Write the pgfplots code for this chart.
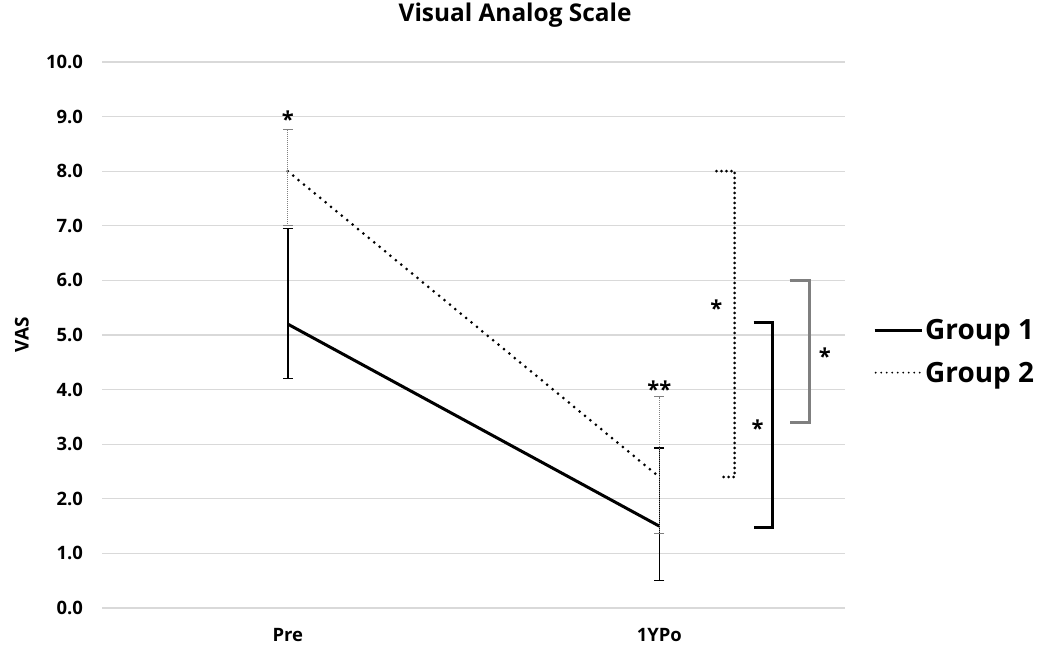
\documentclass[border=0pt]{standalone}
\usepackage{pgfplots}
\pgfplotsset{compat=1.18}
\usepackage{fontspec}
\setmainfont{Open Sans}[BoldFont={Open Sans Bold}]
\definecolor{gridgray}{HTML}{D9D9D9}
\definecolor{brgray}{HTML}{7F7F7F}
\begin{document}
\begin{tikzpicture}
\path[use as bounding box] (0,0) rectangle (1037bp,652bp);
\begin{axis}[
  at={(102bp,44bp)}, anchor=south west,
  scale only axis, width=743bp, height=546bp,
  xmin=-0.5, xmax=1.5, ymin=0, ymax=10,
  xtick={0,1}, xticklabels={Pre,1YPo},
  ytick={0,1,2,3,4,5,6,7,8,9,10},
  yticklabel style={/pgf/number format/fixed, /pgf/number format/fixed zerofill, /pgf/number format/precision=1, /pgf/number format/assume math mode=true},
  ymajorgrids, major grid style={draw=gridgray, line width=1.2bp},
  axis line style={draw=none}, tick style={draw=none},
  tick label style={font=\bfseries\fontsize{18.5}{18.5}\selectfont},
  xticklabel style={yshift=-16.5bp},
  yticklabel style={xshift=-15.5bp},
  title={Visual Analog Scale},
  title style={font=\bfseries\fontsize{24.5}{24.5}\selectfont, at={(axis description cs:0.556,1.0623)}, anchor=base},
  ylabel={VAS},
  ylabel style={font=\bfseries\fontsize{19}{19}\selectfont, at={(axis description cs:-0.108,0.5)}, anchor=center},
  clip=false,
  legend cell align=left,
  legend style={at={(axis description cs:1.0377,0.47)}, anchor=west, draw=none, fill=none, inner sep=0pt,
    font=\bfseries\fontsize{28}{28}\selectfont, row sep=19bp, nodes={inner xsep=2bp, inner ysep=1bp}},
]
\addplot[black, line width=3bp,
  legend image code/.code={\draw[black, line width=3bp] (0bp,0bp) -- (47bp,0bp);},
  error bars/.cd, y dir=both, y explicit,
  error bar style={line width=1.5bp, black, solid},
  error mark options={rotate=90, mark size=5bp, line width=1.5bp, black, solid}]
  coordinates {(0,5.2) += (0,1.75) -= (0,1.0) (1,1.5) += (0,1.43) -= (0,1.0)};
\addlegendentry{Group 1}
\addplot[black, line width=3bp, dash pattern=on 0bp off 7bp, line cap=round,
  legend image code/.code={\draw[black, line width=2bp, dash pattern=on 0bp off 5.5bp, line cap=round] (1bp,0bp) -- (47bp,0bp);},
  error bars/.cd, y dir=both, y explicit,
  error bar style={line width=1bp, gray, dash pattern=on 1bp off 1bp, line cap=butt},
  error mark options={rotate=90, mark size=5bp, line width=1bp, gray, solid}]
  coordinates {(0,8.0) += (0,0.77) -= (0,1.0) (1,2.4) += (0,1.47) -= (0,1.03)};
\addlegendentry{Group 2}
% significance brackets
\addplot[forget plot, black, line width=3bp, dash pattern=on 0bp off 5bp, line cap=round]
  coordinates {(1.154,8.0) (1.203,8.0) (1.203,2.4) (1.162,2.4)};
\addplot[forget plot, black, line width=3bp]
  coordinates {(1.254,5.22) (1.305,5.22) (1.305,1.48) (1.254,1.48)};
\addplot[forget plot, brgray, line width=3bp]
  coordinates {(1.351,6.0) (1.405,6.0) (1.405,3.39) (1.351,3.39)};
\begin{scope}[every node/.style={font=\bfseries\fontsize{22}{22}\selectfont, inner sep=0pt}]
\node at (axis cs:0,8.95) {*};
\node at (axis cs:1,4.0) {**};
\node at (axis cs:1.154,5.5) {*};
\node at (axis cs:1.265,3.29) {*};
\node at (axis cs:1.446,4.62) {*};
\end{scope}
\end{axis}
\end{tikzpicture}
\end{document}
